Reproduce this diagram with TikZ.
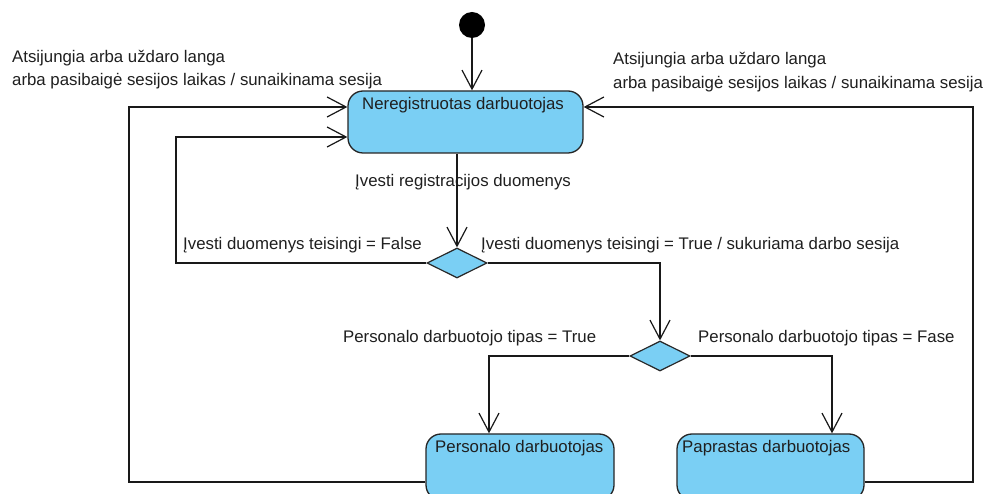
\documentclass[tikz,border=0pt]{standalone}
\usepackage{fontspec}
\setmainfont{Liberation Sans}
\usetikzlibrary{arrows.meta,shapes.geometric}
\definecolor{statefill}{RGB}{122,207,244}
\definecolor{edgeline}{RGB}{38,38,38}
\tikzset{
  statebox/.style={draw=edgeline, line width=1.3pt, fill=statefill, rounded corners=15pt, inner sep=0pt},
  choice/.style={draw=edgeline, line width=1.2pt, fill=statefill, diamond, aspect=2, minimum width=60pt, minimum height=30pt, inner sep=0pt},
  txt/.style={anchor=base west, inner sep=0pt, font=\fontsize{16.8}{20}\selectfont, text=black!88},
  flow/.style={draw=black!90, line width=1.2pt},
  arr/.style={flow, -{Straight Barb[length=19pt, width=20pt]}},
}
\begin{document}
\begin{tikzpicture}[x=1pt, y=-1pt]
\useasboundingbox (0,0) rectangle (986,494);
\clip (0,0) rectangle (986,494);
\fill[white] (0,0) rectangle (986,494);

% initial pseudo-state
\node[circle, fill=black, minimum size=26pt, inner sep=0pt] (init) at (472,25) {};

% states
\node[statebox, minimum width=235pt, minimum height=62pt] (top) at (465.5,122) {};
\node[statebox, minimum width=188pt, minimum height=66pt] (pers) at (520,467) {};
\node[statebox, minimum width=187pt, minimum height=66pt] (papr) at (770.5,467) {};

% decisions
\node[choice] (d1) at (457,263) {};
\node[choice] (d2) at (660,356) {};

% state names
\node[txt] (topT) at (362,110) {Neregistruotas darbuotojas};
\node[txt] (persT) at (435,453) {Personalo darbuotojas};
\node[txt] (paprT) at (682,453) {Paprastas darbuotojas};

% guards and effects
\node[txt] (exitL1) at (12,62.5) {Atsijungia arba uždaro langa};
\node[txt] (exitL2) at (12,86) {arba pasibaigė sesijos laikas / sunaikinama sesija};
\node[txt] (exitR1) at (613,65) {Atsijungia arba uždaro langa};
\node[txt] (exitR2) at (613,88.5) {arba pasibaigė sesijos laikas / sunaikinama sesija};
\node[txt] (regT) at (355,187) {Įvesti registracijos duomenys};
\node[txt] (falseT) at (183,250) {Įvesti duomenys teisingi = False};
\node[txt] (trueT) at (481,250) {Įvesti duomenys teisingi = True / sukuriama darbo sesija};
\node[txt] (typeT) at (343,343) {Personalo darbuotojo tipas = True};
\node[txt] (typeF) at (698,343) {Personalo darbuotojo tipas = Fase};

% routing points
\coordinate (retIn) at (176,137);
\coordinate (loopL) at (129,482);
\coordinate (loopR) at (973,482);
\coordinate (topIn) at (0,107);
\coordinate (persIn) at (489,0);
\coordinate (paprIn) at (832,0);

% transitions
\draw[arr] (init.south) -- (init.south |- top.north);
\draw[arr] (d1.north |- top.south) -- (d1.north);
\draw[arr] (d1.west) -| (retIn) -- (retIn -| top.west);
\draw[arr] (d1.east) -| (d2.north);
\draw[arr] (d2.west) -| (persIn |- pers.north);
\draw[arr] (d2.east) -| (paprIn |- papr.north);
\draw[arr] (loopL -| pers.west) -- (loopL) |- (topIn -| top.west);
\draw[arr] (loopR -| papr.east) -- (loopR) |- (topIn -| top.east);
\end{tikzpicture}
\end{document}
